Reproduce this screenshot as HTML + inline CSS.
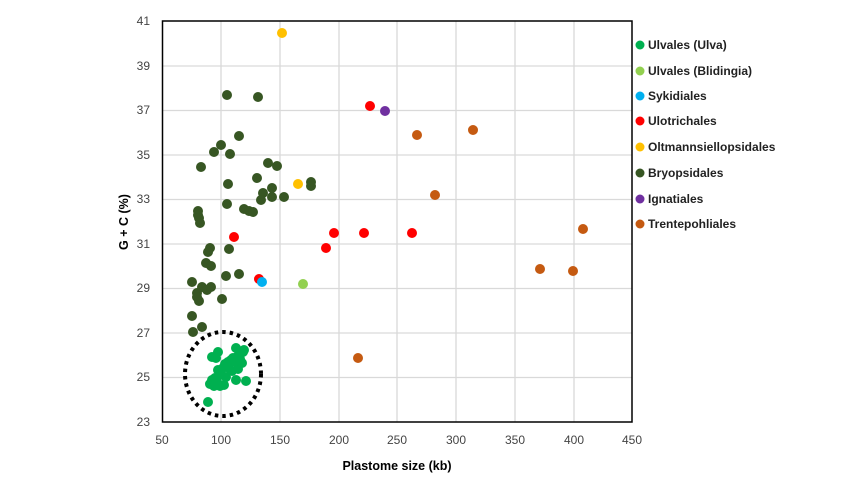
<!DOCTYPE html>
<html><head><style>body{margin:0;background:#fff}svg{display:block}</style></head><body>
<svg width="865" height="487" xmlns="http://www.w3.org/2000/svg" font-family="Liberation Sans, sans-serif">
<g stroke="#d9d9d9" stroke-width="1.3">
<line x1="221" y1="21" x2="221" y2="422"/><line x1="280" y1="21" x2="280" y2="422"/><line x1="339" y1="21" x2="339" y2="422"/><line x1="397" y1="21" x2="397" y2="422"/><line x1="456" y1="21" x2="456" y2="422"/><line x1="515" y1="21" x2="515" y2="422"/><line x1="574" y1="21" x2="574" y2="422"/>
<line x1="162" y1="66" x2="632" y2="66"/><line x1="162" y1="110.5" x2="632" y2="110.5"/><line x1="162" y1="155" x2="632" y2="155"/><line x1="162" y1="199.5" x2="632" y2="199.5"/><line x1="162" y1="244" x2="632" y2="244"/><line x1="162" y1="288.5" x2="632" y2="288.5"/><line x1="162" y1="333" x2="632" y2="333"/><line x1="162" y1="377.5" x2="632" y2="377.5"/>
</g>
<rect x="162.5" y="21" width="469.5" height="401" fill="none" stroke="#000" stroke-width="1.5"/>
<g font-size="12" fill="#444" text-anchor="end">
<text x="150" y="25">41</text><text x="150" y="70">39</text><text x="150" y="114">37</text><text x="150" y="159">35</text><text x="150" y="203">33</text><text x="150" y="248">31</text><text x="150" y="292">29</text><text x="150" y="337">27</text><text x="150" y="381">25</text><text x="150" y="426">23</text>
</g>
<g font-size="12" fill="#444" text-anchor="middle">
<text x="162" y="444">50</text><text x="221" y="444">100</text><text x="280" y="444">150</text><text x="339" y="444">200</text><text x="397" y="444">250</text><text x="456" y="444">300</text><text x="515" y="444">350</text><text x="574" y="444">400</text><text x="632" y="444">450</text>
</g>
<text x="397" y="470" font-size="12.5" font-weight="bold" text-anchor="middle">Plastome size (kb)</text>
<text transform="translate(128,222) rotate(-90)" font-size="12.5" font-weight="bold" text-anchor="middle">G + C (%)</text>
<ellipse cx="223" cy="374" rx="38" ry="42" fill="none" stroke="#000" stroke-width="4" stroke-dasharray="3.5,4"/>
<g fill="#00B050">
<circle cx="208" cy="402" r="5"/><circle cx="210" cy="384" r="5"/><circle cx="212" cy="380" r="5"/><circle cx="215" cy="378" r="5"/><circle cx="218" cy="370" r="5"/><circle cx="220" cy="375" r="5"/><circle cx="223" cy="368" r="5"/><circle cx="225" cy="364" r="5"/><circle cx="228" cy="362" r="5"/><circle cx="231" cy="360" r="5"/><circle cx="233" cy="358" r="5"/><circle cx="236" cy="362" r="5"/><circle cx="238" cy="356" r="5"/><circle cx="240" cy="359" r="5"/><circle cx="243" cy="352" r="5"/><circle cx="244" cy="350" r="5"/><circle cx="238" cy="369" r="5"/><circle cx="246" cy="381" r="5"/><circle cx="236" cy="380" r="5"/><circle cx="214" cy="386" r="5"/><circle cx="217" cy="382" r="5"/><circle cx="212" cy="357" r="5"/><circle cx="216" cy="358" r="5"/><circle cx="218" cy="352" r="5"/><circle cx="226" cy="377" r="5"/><circle cx="229" cy="368" r="5"/><circle cx="220" cy="386" r="5"/><circle cx="232" cy="371" r="5"/><circle cx="242" cy="363" r="5"/><circle cx="236" cy="348" r="5"/><circle cx="224" cy="385" r="5"/>
</g>
<g fill="#375623">
<circle cx="227" cy="95" r="5"/><circle cx="258" cy="97" r="5"/><circle cx="239" cy="136" r="5"/><circle cx="221" cy="145" r="5"/><circle cx="214" cy="152" r="5"/><circle cx="230" cy="154" r="5"/><circle cx="201" cy="167" r="5"/><circle cx="268" cy="163" r="5"/><circle cx="277" cy="166" r="5"/><circle cx="257" cy="178" r="5"/><circle cx="228" cy="184" r="5"/><circle cx="311" cy="182" r="5"/><circle cx="311" cy="186" r="5"/><circle cx="263" cy="193" r="5"/><circle cx="272" cy="188" r="5"/><circle cx="261" cy="200" r="5"/><circle cx="272" cy="197" r="5"/><circle cx="284" cy="197" r="5"/><circle cx="227" cy="204" r="5"/><circle cx="244" cy="209" r="5"/><circle cx="249" cy="211" r="5"/><circle cx="253" cy="212" r="5"/><circle cx="198" cy="211" r="5"/><circle cx="198" cy="215" r="5"/><circle cx="199" cy="218" r="5"/><circle cx="200" cy="223" r="5"/>
<circle cx="210" cy="248" r="5"/><circle cx="208" cy="252" r="5"/><circle cx="229" cy="249" r="5"/><circle cx="206" cy="263" r="5"/><circle cx="211" cy="266" r="5"/><circle cx="192" cy="282" r="5"/><circle cx="202" cy="287" r="5"/><circle cx="207" cy="290" r="5"/><circle cx="211" cy="287" r="5"/><circle cx="197" cy="293" r="5"/><circle cx="199" cy="301" r="5"/><circle cx="197" cy="297" r="5"/><circle cx="226" cy="276" r="5"/><circle cx="239" cy="274" r="5"/><circle cx="222" cy="299" r="5"/><circle cx="192" cy="316" r="5"/><circle cx="193" cy="332" r="5"/><circle cx="202" cy="327" r="5"/>
</g>
<g fill="#FF0000">
<circle cx="234" cy="237" r="5"/><circle cx="259" cy="279" r="5"/><circle cx="326" cy="248" r="5"/><circle cx="334" cy="233" r="5"/><circle cx="364" cy="233" r="5"/><circle cx="412" cy="233" r="5"/><circle cx="370" cy="106" r="5"/>
</g>
<circle cx="262" cy="282" r="5" fill="#00B0F0"/>
<circle cx="303" cy="284" r="5" fill="#92D050"/>
<circle cx="282" cy="33" r="5" fill="#FFC000"/><circle cx="298" cy="184" r="5" fill="#FFC000"/>
<circle cx="385" cy="111" r="5" fill="#7030A0"/>
<g fill="#C55A11">
<circle cx="358" cy="358" r="5"/><circle cx="417" cy="135" r="5"/><circle cx="435" cy="195" r="5"/><circle cx="473" cy="130" r="5"/><circle cx="583" cy="229" r="5"/><circle cx="540" cy="269" r="5"/><circle cx="573" cy="271" r="5"/>
</g>
<g font-size="12" font-weight="bold" fill="#222">
<circle cx="640" cy="45" r="4.5" fill="#00B050"/><text x="648" y="49">Ulvales (Ulva)</text>
<circle cx="640" cy="71" r="4.5" fill="#92D050"/><text x="648" y="75">Ulvales (Blidingia)</text>
<circle cx="640" cy="96" r="4.5" fill="#00B0F0"/><text x="648" y="100">Sykidiales</text>
<circle cx="640" cy="121" r="4.5" fill="#FF0000"/><text x="648" y="125">Ulotrichales</text>
<circle cx="640" cy="147" r="4.5" fill="#FFC000"/><text x="648" y="151">Oltmannsiellopsidales</text>
<circle cx="640" cy="173" r="4.5" fill="#375623"/><text x="648" y="177">Bryopsidales</text>
<circle cx="640" cy="199" r="4.5" fill="#7030A0"/><text x="648" y="203">Ignatiales</text>
<circle cx="640" cy="224" r="4.5" fill="#C55A11"/><text x="648" y="228">Trentepohliales</text>
</g>
</svg>
</body></html>
